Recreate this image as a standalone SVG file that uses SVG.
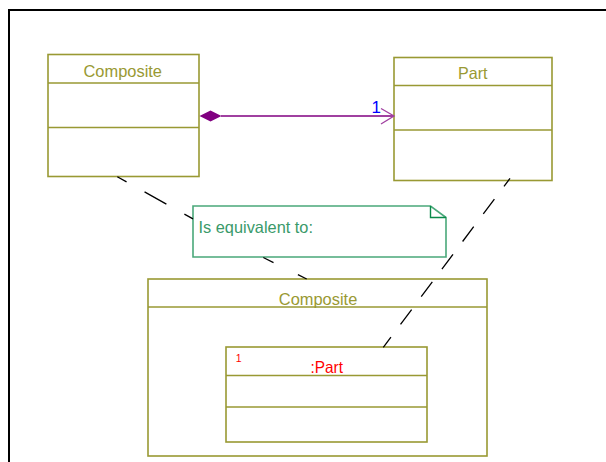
<svg xmlns="http://www.w3.org/2000/svg" width="606" height="462" viewBox="0 0 606 462">
<style>
.box{fill:#ffffff;stroke:#999933;stroke-width:1.6}
.div{stroke:#999933;stroke-width:1.6;fill:none}
.t{font-family:"Liberation Sans",Arial,sans-serif;font-size:16.5px;fill:#999933}
.dash{stroke:#000000;stroke-width:1.3;fill:none}
</style>
<rect x="0" y="0" width="606" height="462" fill="#ffffff"/>
<path d="M9,463 V10 H607" fill="none" stroke="#000000" stroke-width="2"/>
<g id="composite">
<rect class="box" x="48" y="54.5" width="151" height="122"/>
<line class="div" x1="48" y1="83" x2="199" y2="83"/>
<line class="div" x1="48" y1="127.5" x2="199" y2="127.5"/>
<text class="t" x="83.5" y="76.7" textLength="78.5" lengthAdjust="spacingAndGlyphs">Composite</text>
</g>
<g id="part">
<rect class="box" x="394" y="57.5" width="158" height="123"/>
<line class="div" x1="394" y1="85.5" x2="552" y2="85.5"/>
<line class="div" x1="394" y1="130" x2="552" y2="130"/>
<text class="t" x="458" y="78.7" textLength="29.5" lengthAdjust="spacingAndGlyphs">Part</text>
</g>
<g id="note">
<path d="M193,206 H430.5 L446,217.5 V257 H193 Z" fill="#ffffff" stroke="#4aa87a" stroke-width="1.6"/>
<path d="M430.5,206 V217.5 H446" fill="none" stroke="#0a8a4a" stroke-width="1.4"/>
<text x="198.5" y="233.3" font-family="Liberation Sans,Arial,sans-serif" font-size="16.5" fill="#3a9a6a" textLength="114.5" lengthAdjust="spacingAndGlyphs">Is equivalent to:</text>
</g>
<g id="composite-structure">
<rect class="box" x="148" y="279" width="339" height="177"/>
<line class="div" x1="148" y1="307" x2="487" y2="307"/>
<text class="t" x="278.8" y="305" textLength="78.5" lengthAdjust="spacingAndGlyphs">Composite</text>
</g>
<g id="part-instance">
<rect class="box" x="226" y="347" width="201" height="95"/>
<line class="div" x1="226" y1="375.5" x2="427" y2="375.5"/>
<line class="div" x1="226" y1="407" x2="427" y2="407"/>
<text x="235.8" y="361.7" font-family="Liberation Sans,Arial,sans-serif" font-size="10.5" fill="#ff0000">1</text>
<text x="310.5" y="373.3" font-family="Liberation Sans,Arial,sans-serif" font-size="16.5" fill="#ff0000" textLength="32.5" lengthAdjust="spacingAndGlyphs">:Part</text>
</g>
<g id="connectors">
<path class="dash" d="M117.3,176.7 L193,218.9" stroke-dasharray="25 20.6" stroke-dashoffset="14.4"/>
<path class="dash" d="M263.3,257.5 L306.7,279" stroke-dasharray="11.4 27.2 11"/>
<path class="dash" d="M510,178.3 L383.3,347.3" stroke-dasharray="18.5 16" stroke-dashoffset="8.5"/>
<line x1="221" y1="116" x2="393" y2="116" stroke="#800080" stroke-width="1.6"/>
<polygon points="199.5,116 210.5,110.5 221.5,116 210.5,121.5" fill="#800080"/>
<polyline points="381,108.5 394,116 381,124" fill="none" stroke="#a040a0" stroke-width="1.3"/>
<text x="371.5" y="113.3" font-family="Liberation Sans,Arial,sans-serif" font-size="17" fill="#0000ff">1</text>
</g>
</svg>
